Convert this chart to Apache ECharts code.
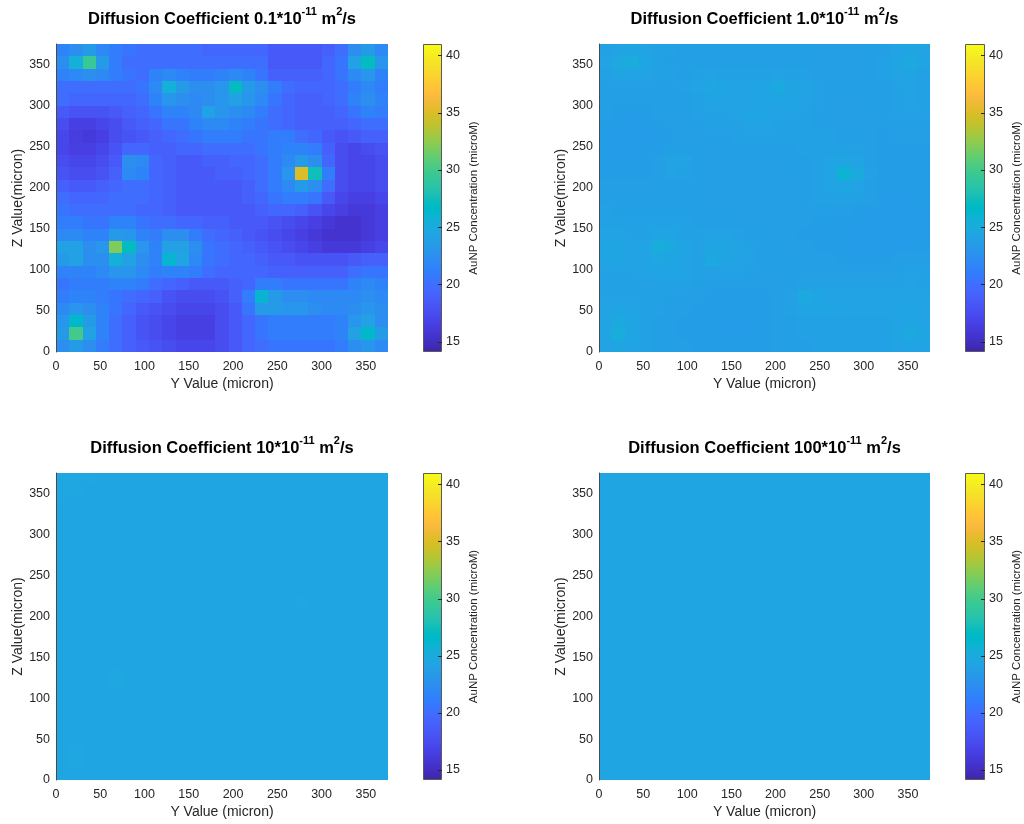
<!DOCTYPE html>
<html>
<head>
<meta charset="utf-8">
<title>AuNP concentration maps</title>
<script src="https://cdn.jsdelivr.net/npm/echarts@6/dist/echarts.min.js"></script>
<style>
  html, body { margin: 0; padding: 0; background: #ffffff; }
  #chart { width: 1024px; height: 824px; }
</style>
</head>
<body>
<div id="chart"></div>
<script>
// Grid spacing of the simulation (micron) and axis ticks
const CELL = 15;
const AXIS_MAX = 375;
const AXIS_TICKS = [0, 50, 100, 150, 200, 250, 300, 350];
const CBAR_TICKS = [15, 20, 25, 30, 35, 40];
const C_MIN = 14.1;
const C_MAX = 41;
const COEFFS = ['0.1', '1.0', '10', '100'];

// Concentration (microM) per cell; rows from top (z = 360-375) to bottom (z = 0-15),
// columns from y = 0-15 to y = 360-375.
const concD01 = [
  [21.5,22.5,23.5,22,21,20.5,20,20,20,20,20,19.5,19.5,19.5,19.5,19.5,18.5,18.5,18.5,18.5,19,20,22.5,23.5,22],
  [22.5,25.5,29.5,23.5,21,20,20,20,20,20,20,20,20,20,20,20,18.5,18.5,18.5,18.5,19.5,20.5,24,27,23],
  [21.5,22,22.5,22,21,20.5,20,21.5,22,21.5,21,21,21.5,22,21.5,20.5,19,19,19,19,19.5,20.5,22,23,21.5],
  [20,20,20,20,20,20,20.5,22,25.5,23.5,22.5,22.5,23,27,23.5,22.5,21,20,19.5,19.5,19.5,20,21,22,21],
  [20,19.5,19.5,19.5,19.5,19.5,20,21.5,23,22.5,22,22.5,23,24,23,22,20.5,19.5,19,19,19.5,20,21.5,22.5,21.5],
  [18.5,18,18,18,18.5,19,19.5,20.5,21.5,21.5,22,24,23,22.5,22,21,20,19.5,19,19,19,19.5,20.5,21.5,21],
  [17.5,16.5,16.5,17,17.5,18.5,19,19.5,20.5,20.5,21.5,22,22,21.5,21,20.5,20,19.5,19,19,19,19,19.5,20,20],
  [17,16.3,16,16.5,17.5,18,18.5,19,19.5,20,20.5,21,21,21,20.5,20.5,21,21,20,19.5,18.5,18,18.5,19,19],
  [17,16.5,16.5,17,18,19.5,19.5,19,19,19.5,19.5,20,20,20,20,20.5,21,21.5,21.5,21,19,17.5,17,17.5,18],
  [17.5,17,17,17.5,18.5,22.5,22,19.5,19,18.5,18.5,19,19,19.5,19.5,20,21,22,23.5,22.5,19.5,17.5,17,17,17.5],
  [18,17.5,17.5,18,19,22,21.5,19.5,19,18.5,18.5,18.5,19,19,19.5,20,21,23,35,27.5,21,17.5,17,17,17.5],
  [19,18.5,18.5,19,19.5,20,20,19.5,19,18.5,18.5,18.5,18.5,18.5,19,20,21,22,23.5,22.5,20,17.5,17,17,17.5],
  [20,19.5,19.5,19.5,20,20,20,19.5,19,18.5,18.5,18.5,18.5,18.5,19,19.5,20.5,21,21,20.5,18.5,17,16.5,16.5,17],
  [20.5,20,20,20,20,20,19.5,19.5,19,18.5,18.5,18.5,18.5,18.5,18.5,19,19.5,19.5,19,18,17,16.5,16,16,16.5],
  [21,21,20.5,20.5,21.5,21.5,20.5,20,20,19.5,19.5,19,19,18.5,18.5,18.5,18,17.5,17,16.5,16,15.5,15.5,16,16.5],
  [22,22,21.5,21.5,23.5,23,21.5,21,22.5,22.5,21,20,19.5,19,18.5,18,17.5,17,16.5,16,15.5,15.5,15.5,16,16.5],
  [24,24,22.5,23,32,27,23,21.5,24,24,22.5,20.5,20,19.5,19,18.5,18,17.5,17,16.5,16,16,16,16.5,17],
  [23.5,24,22.5,22.5,25.5,24,22.5,21.5,26,24.5,22,20.5,20,19.5,19.5,19,18.5,18.5,18,18,18,18,18.5,19,19],
  [21.5,21.5,21.5,22,23,23,22,21,21.5,21.5,21,20,19.5,19.5,19.5,19.5,19,19,19,19,19,19,20,20.5,20.5],
  [20.5,21,21,21,21.5,21.5,21,20,19.5,19,18.5,18.5,18.5,19,19.5,21,21,20.5,20.5,20.5,20.5,20.5,21.5,22,21.5],
  [21,21.5,21.5,21,20.5,20,19.5,19,18,17.5,17.5,17.5,18,19,21,26,23.5,22.5,22.5,22,22,22,22,22.5,22],
  [22,23,22.5,21.5,20.5,19.5,18.5,18,17.5,17,17,17,17.5,18.5,20.5,23.5,23.5,23,23,22.5,22,22,22.5,23,22.5],
  [23,26.5,23.5,21.5,20,19,18,17.5,17,16.5,16.5,16.5,17.5,18.5,19.5,20.5,21,21,21,21,21,21.5,23,24,22.5],
  [23.5,30,24,21.5,20,19,18,17.5,17,16.5,16.5,16.5,17.5,18.5,19.5,20.5,21,21,21,21,21,21.5,24,26.5,23.5],
  [22.5,23.5,22.5,21,20,19,18.5,18,17.5,17,17,17,17.5,18.5,19.5,20,20.5,20.5,20.5,20.5,20.5,21,22.5,23,22]
];

const concD1 = [
  [24.1,24.2,24.4,24.2,24.1,24.0,23.9,23.9,23.9,23.9,23.9,23.9,23.9,23.9,23.9,23.9,23.8,23.8,23.8,23.8,23.8,23.9,24.2,24.4,24.2],
  [24.2,24.7,25.1,24.4,24.1,23.9,23.9,23.9,23.9,23.9,23.9,23.9,23.9,23.9,23.9,23.9,23.8,23.8,23.8,23.8,23.9,24.0,24.4,24.7,24.3],
  [24.1,24.2,24.2,24.2,24.1,24.0,23.9,24.1,24.2,24.1,24.1,24.1,24.1,24.2,24.1,24.0,23.8,23.8,23.8,23.8,23.9,24.0,24.2,24.3,24.1],
  [23.9,23.9,23.9,23.9,23.9,23.9,24.0,24.2,24.6,24.4,24.2,24.2,24.3,24.8,24.4,24.2,24.1,23.9,23.9,23.9,23.9,23.9,24.1,24.2,24.1],
  [23.9,23.9,23.9,23.9,23.9,23.9,23.9,24.1,24.3,24.2,24.2,24.2,24.3,24.4,24.3,24.2,24.0,23.9,23.8,23.8,23.9,23.9,24.1,24.2,24.1],
  [23.8,23.7,23.7,23.7,23.8,23.8,23.9,24.0,24.1,24.1,24.2,24.4,24.3,24.2,24.2,24.1,23.9,23.9,23.8,23.8,23.8,23.9,24.0,24.1,24.1],
  [23.7,23.6,23.6,23.7,23.7,23.8,23.8,23.9,24.0,24.0,24.1,24.2,24.2,24.1,24.1,24.0,23.9,23.9,23.8,23.8,23.8,23.8,23.9,23.9,23.9],
  [23.7,23.6,23.6,23.6,23.7,23.7,23.8,23.8,23.9,23.9,24.0,24.1,24.1,24.1,24.0,24.0,24.1,24.1,23.9,23.9,23.8,23.7,23.8,23.8,23.8],
  [23.7,23.6,23.6,23.7,23.7,23.9,23.9,23.8,23.8,23.9,23.9,23.9,23.9,23.9,23.9,24.0,24.1,24.1,24.1,24.1,23.8,23.7,23.7,23.7,23.7],
  [23.7,23.7,23.7,23.7,23.8,24.2,24.2,23.9,23.8,23.8,23.8,23.8,23.8,23.9,23.9,23.9,24.1,24.2,24.4,24.2,23.9,23.7,23.7,23.7,23.7],
  [23.7,23.7,23.7,23.7,23.8,24.2,24.1,23.9,23.8,23.8,23.8,23.8,23.8,23.8,23.9,23.9,24.1,24.3,25.8,24.9,24.1,23.7,23.7,23.7,23.7],
  [23.8,23.8,23.8,23.8,23.9,23.9,23.9,23.9,23.8,23.8,23.8,23.8,23.8,23.8,23.8,23.9,24.1,24.2,24.4,24.2,23.9,23.7,23.7,23.7,23.7],
  [23.9,23.9,23.9,23.9,23.9,23.9,23.9,23.9,23.8,23.8,23.8,23.8,23.8,23.8,23.8,23.9,24.0,24.1,24.1,24.0,23.8,23.7,23.6,23.6,23.7],
  [24.0,23.9,23.9,23.9,23.9,23.9,23.9,23.9,23.8,23.8,23.8,23.8,23.8,23.8,23.8,23.8,23.9,23.9,23.8,23.7,23.7,23.6,23.6,23.6,23.6],
  [24.1,24.1,24.0,24.0,24.1,24.1,24.0,23.9,23.9,23.9,23.9,23.8,23.8,23.8,23.8,23.8,23.7,23.7,23.7,23.6,23.6,23.6,23.6,23.6,23.6],
  [24.2,24.2,24.1,24.1,24.4,24.3,24.1,24.1,24.2,24.2,24.1,23.9,23.9,23.8,23.8,23.7,23.7,23.7,23.6,23.6,23.6,23.6,23.6,23.6,23.6],
  [24.4,24.4,24.2,24.3,25.3,24.8,24.3,24.1,24.4,24.4,24.2,24.0,23.9,23.9,23.8,23.8,23.7,23.7,23.7,23.6,23.6,23.6,23.6,23.6,23.7],
  [24.4,24.4,24.2,24.2,24.6,24.4,24.2,24.1,24.7,24.5,24.2,24.0,23.9,23.9,23.9,23.8,23.8,23.8,23.7,23.7,23.7,23.7,23.8,23.8,23.8],
  [24.1,24.1,24.1,24.2,24.3,24.3,24.2,24.1,24.1,24.1,24.1,23.9,23.9,23.9,23.9,23.9,23.8,23.8,23.8,23.8,23.8,23.8,23.9,24.0,24.0],
  [24.0,24.1,24.1,24.1,24.1,24.1,24.1,23.9,23.9,23.8,23.8,23.8,23.8,23.8,23.9,24.1,24.1,24.0,24.0,24.0,24.0,24.0,24.1,24.2,24.1],
  [24.1,24.1,24.1,24.1,24.0,23.9,23.9,23.8,23.7,23.7,23.7,23.7,23.7,23.8,24.1,24.7,24.4,24.2,24.2,24.2,24.2,24.2,24.2,24.2,24.2],
  [24.2,24.3,24.2,24.1,24.0,23.9,23.8,23.7,23.7,23.7,23.7,23.7,23.7,23.8,24.0,24.4,24.4,24.3,24.3,24.2,24.2,24.2,24.2,24.3,24.2],
  [24.3,24.7,24.4,24.1,23.9,23.8,23.7,23.7,23.7,23.6,23.6,23.6,23.7,23.8,23.9,24.0,24.1,24.1,24.1,24.1,24.1,24.1,24.3,24.4,24.2],
  [24.4,25.2,24.4,24.1,23.9,23.8,23.7,23.7,23.7,23.6,23.6,23.6,23.7,23.8,23.9,24.0,24.1,24.1,24.1,24.1,24.1,24.1,24.4,24.7,24.4],
  [24.2,24.4,24.2,24.1,23.9,23.8,23.8,23.7,23.7,23.7,23.7,23.7,23.7,23.8,23.9,23.9,24.0,24.0,24.0,24.0,24.0,24.1,24.2,24.3,24.2]
];

const concD10 = [
  [24.6,24.6,24.6,24.5,24.45,24.4,24.4,24.4,24.4,24.4,24.4,24.4,24.4,24.4,24.4,24.4,24.4,24.4,24.4,24.4,24.4,24.4,24.4,24.45,24.4],
  [24.6,24.6,24.5,24.45,24.4,24.4,24.4,24.4,24.4,24.4,24.4,24.4,24.4,24.4,24.4,24.4,24.4,24.4,24.4,24.4,24.4,24.4,24.45,24.45,24.4],
  [24.45,24.45,24.4,24.4,24.4,24.4,24.4,24.4,24.4,24.4,24.4,24.4,24.4,24.4,24.4,24.4,24.4,24.4,24.4,24.4,24.4,24.4,24.4,24.4,24.4],
  [24.4,24.4,24.4,24.4,24.4,24.4,24.4,24.4,24.45,24.4,24.4,24.4,24.4,24.45,24.4,24.4,24.4,24.4,24.4,24.4,24.4,24.4,24.4,24.4,24.4],
  [24.4,24.4,24.4,24.4,24.4,24.4,24.4,24.4,24.4,24.4,24.4,24.4,24.4,24.4,24.4,24.4,24.4,24.4,24.4,24.4,24.4,24.4,24.4,24.4,24.4],
  [24.4,24.4,24.4,24.4,24.4,24.4,24.4,24.4,24.4,24.4,24.4,24.4,24.4,24.4,24.4,24.4,24.4,24.4,24.4,24.4,24.4,24.4,24.4,24.4,24.4],
  [24.35,24.35,24.35,24.35,24.4,24.4,24.4,24.4,24.4,24.4,24.4,24.4,24.4,24.4,24.4,24.4,24.4,24.4,24.4,24.4,24.4,24.4,24.4,24.4,24.4],
  [24.35,24.35,24.35,24.35,24.4,24.4,24.4,24.4,24.4,24.4,24.4,24.4,24.4,24.4,24.4,24.4,24.4,24.4,24.4,24.4,24.4,24.4,24.4,24.4,24.4],
  [24.35,24.35,24.35,24.4,24.4,24.4,24.4,24.4,24.4,24.4,24.4,24.4,24.4,24.4,24.4,24.4,24.4,24.4,24.4,24.4,24.4,24.35,24.35,24.35,24.35],
  [24.4,24.4,24.4,24.4,24.4,24.45,24.45,24.4,24.4,24.4,24.4,24.4,24.4,24.4,24.4,24.4,24.4,24.4,24.45,24.4,24.4,24.35,24.35,24.35,24.35],
  [24.4,24.4,24.4,24.4,24.4,24.45,24.45,24.4,24.4,24.4,24.4,24.4,24.4,24.4,24.4,24.4,24.4,24.45,24.6,24.5,24.4,24.35,24.35,24.35,24.35],
  [24.4,24.4,24.4,24.4,24.4,24.4,24.4,24.4,24.4,24.4,24.4,24.4,24.4,24.4,24.4,24.4,24.4,24.4,24.45,24.4,24.4,24.35,24.35,24.35,24.35],
  [24.4,24.4,24.4,24.4,24.4,24.4,24.4,24.4,24.4,24.4,24.4,24.4,24.4,24.4,24.4,24.4,24.4,24.4,24.4,24.4,24.4,24.35,24.35,24.35,24.35],
  [24.4,24.4,24.4,24.4,24.4,24.4,24.4,24.4,24.4,24.4,24.4,24.4,24.4,24.4,24.4,24.4,24.4,24.4,24.4,24.4,24.35,24.35,24.35,24.35,24.35],
  [24.4,24.4,24.4,24.4,24.4,24.4,24.4,24.4,24.4,24.4,24.4,24.4,24.4,24.4,24.4,24.4,24.4,24.4,24.35,24.35,24.35,24.35,24.35,24.35,24.35],
  [24.45,24.45,24.4,24.4,24.45,24.45,24.4,24.4,24.4,24.4,24.4,24.4,24.4,24.4,24.4,24.4,24.4,24.4,24.35,24.35,24.35,24.35,24.35,24.35,24.35],
  [24.5,24.45,24.4,24.5,24.55,24.5,24.4,24.4,24.45,24.4,24.4,24.4,24.4,24.4,24.4,24.4,24.4,24.4,24.35,24.35,24.35,24.35,24.35,24.35,24.35],
  [24.45,24.45,24.4,24.45,24.55,24.5,24.4,24.4,24.5,24.45,24.4,24.4,24.4,24.4,24.4,24.4,24.4,24.4,24.4,24.4,24.4,24.4,24.4,24.4,24.4],
  [24.4,24.4,24.4,24.4,24.45,24.45,24.4,24.4,24.4,24.4,24.4,24.4,24.4,24.4,24.4,24.4,24.4,24.4,24.4,24.4,24.4,24.4,24.4,24.4,24.4],
  [24.4,24.4,24.4,24.4,24.4,24.4,24.4,24.4,24.4,24.4,24.4,24.4,24.4,24.4,24.4,24.4,24.4,24.4,24.4,24.4,24.4,24.4,24.4,24.4,24.4],
  [24.4,24.4,24.4,24.4,24.4,24.4,24.4,24.4,24.4,24.4,24.4,24.4,24.4,24.4,24.4,24.5,24.45,24.4,24.4,24.4,24.4,24.4,24.4,24.4,24.4],
  [24.45,24.45,24.45,24.4,24.4,24.4,24.4,24.4,24.4,24.4,24.4,24.4,24.4,24.4,24.4,24.45,24.45,24.4,24.4,24.4,24.4,24.4,24.4,24.4,24.4],
  [24.5,24.55,24.5,24.45,24.4,24.4,24.4,24.4,24.4,24.4,24.4,24.4,24.4,24.4,24.4,24.4,24.4,24.4,24.4,24.4,24.4,24.4,24.4,24.45,24.4],
  [24.5,24.6,24.5,24.45,24.4,24.4,24.4,24.4,24.4,24.4,24.4,24.4,24.4,24.4,24.4,24.4,24.4,24.4,24.4,24.4,24.4,24.4,24.45,24.45,24.4],
  [24.45,24.5,24.45,24.4,24.4,24.4,24.4,24.4,24.4,24.4,24.4,24.4,24.4,24.4,24.4,24.4,24.4,24.4,24.4,24.4,24.4,24.4,24.4,24.4,24.4]
];

const concD100 = [
  [24.5,24.5,24.5,24.5,24.5,24.5,24.5,24.5,24.5,24.5,24.5,24.5,24.5,24.5,24.5,24.5,24.5,24.5,24.5,24.5,24.5,24.5,24.5,24.5,24.5],
  [24.5,24.5,24.5,24.5,24.5,24.5,24.5,24.5,24.5,24.5,24.5,24.5,24.5,24.5,24.5,24.5,24.5,24.5,24.5,24.5,24.5,24.5,24.5,24.5,24.5],
  [24.5,24.5,24.5,24.5,24.5,24.5,24.5,24.5,24.5,24.5,24.5,24.5,24.5,24.5,24.5,24.5,24.5,24.5,24.5,24.5,24.5,24.5,24.5,24.5,24.5],
  [24.5,24.5,24.5,24.5,24.5,24.5,24.5,24.5,24.5,24.5,24.5,24.5,24.5,24.5,24.5,24.5,24.5,24.5,24.5,24.5,24.5,24.5,24.5,24.5,24.5],
  [24.5,24.5,24.5,24.5,24.5,24.5,24.5,24.5,24.5,24.5,24.5,24.5,24.5,24.5,24.5,24.5,24.5,24.5,24.5,24.5,24.5,24.5,24.5,24.5,24.5],
  [24.5,24.5,24.5,24.5,24.5,24.5,24.5,24.5,24.5,24.5,24.5,24.5,24.5,24.5,24.5,24.5,24.5,24.5,24.5,24.5,24.5,24.5,24.5,24.5,24.5],
  [24.5,24.5,24.5,24.5,24.5,24.5,24.5,24.5,24.5,24.5,24.5,24.5,24.5,24.5,24.5,24.5,24.5,24.5,24.5,24.5,24.5,24.5,24.5,24.5,24.5],
  [24.5,24.5,24.5,24.5,24.5,24.5,24.5,24.5,24.5,24.5,24.5,24.5,24.5,24.5,24.5,24.5,24.5,24.5,24.5,24.5,24.5,24.5,24.5,24.5,24.5],
  [24.5,24.5,24.5,24.5,24.5,24.5,24.5,24.5,24.5,24.5,24.5,24.5,24.5,24.5,24.5,24.5,24.5,24.5,24.5,24.5,24.5,24.5,24.5,24.5,24.5],
  [24.5,24.5,24.5,24.5,24.5,24.5,24.5,24.5,24.5,24.5,24.5,24.5,24.5,24.5,24.5,24.5,24.5,24.5,24.5,24.5,24.5,24.5,24.5,24.5,24.5],
  [24.5,24.5,24.5,24.5,24.5,24.5,24.5,24.5,24.5,24.5,24.5,24.5,24.5,24.5,24.5,24.5,24.5,24.5,24.5,24.5,24.5,24.5,24.5,24.5,24.5],
  [24.5,24.5,24.5,24.5,24.5,24.5,24.5,24.5,24.5,24.5,24.5,24.5,24.5,24.5,24.5,24.5,24.5,24.5,24.5,24.5,24.5,24.5,24.5,24.5,24.5],
  [24.5,24.5,24.5,24.5,24.5,24.5,24.5,24.5,24.5,24.5,24.5,24.5,24.5,24.5,24.5,24.5,24.5,24.5,24.5,24.5,24.5,24.5,24.5,24.5,24.5],
  [24.5,24.5,24.5,24.5,24.5,24.5,24.5,24.5,24.5,24.5,24.5,24.5,24.5,24.5,24.5,24.5,24.5,24.5,24.5,24.5,24.5,24.5,24.5,24.5,24.5],
  [24.5,24.5,24.5,24.5,24.5,24.5,24.5,24.5,24.5,24.5,24.5,24.5,24.5,24.5,24.5,24.5,24.5,24.5,24.5,24.5,24.5,24.5,24.5,24.5,24.5],
  [24.5,24.5,24.5,24.5,24.5,24.5,24.5,24.5,24.5,24.5,24.5,24.5,24.5,24.5,24.5,24.5,24.5,24.5,24.5,24.5,24.5,24.5,24.5,24.5,24.5],
  [24.5,24.5,24.5,24.5,24.5,24.5,24.5,24.5,24.5,24.5,24.5,24.5,24.5,24.5,24.5,24.5,24.5,24.5,24.5,24.5,24.5,24.5,24.5,24.5,24.5],
  [24.5,24.5,24.5,24.5,24.5,24.5,24.5,24.5,24.5,24.5,24.5,24.5,24.5,24.5,24.5,24.5,24.5,24.5,24.5,24.5,24.5,24.5,24.5,24.5,24.5],
  [24.5,24.5,24.5,24.5,24.5,24.5,24.5,24.5,24.5,24.5,24.5,24.5,24.5,24.5,24.5,24.5,24.5,24.5,24.5,24.5,24.5,24.5,24.5,24.5,24.5],
  [24.5,24.5,24.5,24.5,24.5,24.5,24.5,24.5,24.5,24.5,24.5,24.5,24.5,24.5,24.5,24.5,24.5,24.5,24.5,24.5,24.5,24.5,24.5,24.5,24.5],
  [24.5,24.5,24.5,24.5,24.5,24.5,24.5,24.5,24.5,24.5,24.5,24.5,24.5,24.5,24.5,24.5,24.5,24.5,24.5,24.5,24.5,24.5,24.5,24.5,24.5],
  [24.5,24.5,24.5,24.5,24.5,24.5,24.5,24.5,24.5,24.5,24.5,24.5,24.5,24.5,24.5,24.5,24.5,24.5,24.5,24.5,24.5,24.5,24.5,24.5,24.5],
  [24.5,24.5,24.5,24.5,24.5,24.5,24.5,24.5,24.5,24.5,24.5,24.5,24.5,24.5,24.5,24.5,24.5,24.5,24.5,24.5,24.5,24.5,24.5,24.5,24.5],
  [24.5,24.5,24.5,24.5,24.5,24.5,24.5,24.5,24.5,24.5,24.5,24.5,24.5,24.5,24.5,24.5,24.5,24.5,24.5,24.5,24.5,24.5,24.5,24.5,24.5],
  [24.5,24.5,24.5,24.5,24.5,24.5,24.5,24.5,24.5,24.5,24.5,24.5,24.5,24.5,24.5,24.5,24.5,24.5,24.5,24.5,24.5,24.5,24.5,24.5,24.5]
];

// parula colormap (64 steps)
const PARULA = [
  '#3e26a8','#402ab4','#422ec0','#4332cb','#4537d5','#463cde','#4741e5','#4747eb',
  '#484df0','#4852f4','#4758f8','#465efb','#4563fd','#4269fe','#3e6fff','#3875fe',
  '#327cfc','#2f81fa','#2e87f7','#2d8cf3','#2b91ef','#2797eb','#259be8','#23a0e5',
  '#20a5e3','#1ca9df','#18addb','#12b1d6','#08b5d0','#01b8ca','#02bac3','#0bbdbd',
  '#19bfb6','#24c1ae','#2cc4a7','#31c69f','#37c897','#3fca8e','#4acb84','#57cc7a',
  '#64cd6f','#72cd64','#81cc59','#8fcb4e','#9dc943','#abc739','#b9c431','#c5c22a',
  '#d1bf27','#dcbd29','#e6bb2d','#f0ba36','#f8ba3d','#febe3c','#fec338','#fec934',
  '#fccf30','#fad62d','#f7dc2a','#f5e327','#f5e924','#f6ef20','#f7f51b','#f9fb15'
];

const FONT = '"Liberation Sans", Arial, Helvetica, sans-serif';
const TEXT_COLOR = '#262626';

// Panel placement: [plot left, plot top, plot width, plot height, colorbar left, colorbar width]
const LAYOUT = [
  [56, 44, 332, 308, 423, 19],
  [599, 44, 331, 308, 965, 20],
  [56, 473, 332, 307, 423, 19],
  [599, 473, 331, 307, 965, 20]
];
const PANEL_DATA = [concD01, concD1, concD10, concD100];
const NP = LAYOUT.length;

function toCells(rows) {
  const out = [];
  const n = rows.length;
  rows.forEach((row, i) => {
    const r = n - 1 - i;
    row.forEach((v, c) => out.push([c * CELL + CELL / 2, r * CELL + CELL / 2, v]));
  });
  return out;
}

function renderCell(params, api) {
  const yc = api.value(0);
  const zc = api.value(1);
  const a = api.coord([yc - CELL / 2, zc + CELL / 2]);
  const b = api.coord([yc + CELL / 2, zc - CELL / 2]);
  const x0 = Math.round(a[0]), y0 = Math.round(a[1]);
  const x1 = Math.round(b[0]), y1 = Math.round(b[1]);
  return {
    type: 'rect',
    shape: { x: x0, y: y0, width: x1 - x0, height: y1 - y0 },
    style: { fill: api.visual('color') }
  };
}

const barGradientStops = PARULA.map((c, i) => ({ offset: i / (PARULA.length - 1), color: c }));

// colour bar: gradient box with short inward ticks on its right edge
function renderBar(params, api) {
  const lo = api.coord([0, api.value(1)]);
  const hi = api.coord([1, api.value(2)]);
  const children = [{
    type: 'rect',
    shape: { x: lo[0] + 0.5, y: hi[1] + 0.5, width: hi[0] - lo[0] - 1, height: lo[1] - hi[1] - 1 },
    style: {
      fill: new echarts.graphic.LinearGradient(0, 1, 0, 0, barGradientStops),
      stroke: '#5a5a5a',
      lineWidth: 1
    }
  }];
  CBAR_TICKS.forEach((t) => {
    const y = Math.round(api.coord([1, t])[1]) + 0.5;
    children.push({
      type: 'line',
      shape: { x1: hi[0] - 4, y1: y, x2: hi[0], y2: y },
      style: { stroke: '#262626', lineWidth: 1 }
    });
  });
  return { type: 'group', children };
}

const grids = [], xAxes = [], yAxes = [], series = [], titles = [];

// heat map plots: grid / axis / series index 0..3
LAYOUT.forEach((L, i) => {
  const [left, top, width, height] = L;
  grids.push({ left, top, width, height, containLabel: false });
  xAxes.push({
    type: 'value', gridIndex: i, min: 0, max: AXIS_MAX, z: 10,
    name: 'Y Value (micron)', nameLocation: 'middle', nameGap: 25,
    nameTextStyle: { fontFamily: FONT, fontSize: 14, color: TEXT_COLOR },
    axisLine: { show: false },
    axisTick: { show: false },
    splitLine: { show: false },
    axisLabel: { customValues: AXIS_TICKS, fontFamily: FONT, fontSize: 12.5, color: TEXT_COLOR, margin: 8 }
  });
  yAxes.push({
    type: 'value', gridIndex: i, min: 0, max: AXIS_MAX, z: 10,
    name: 'Z Value(micron)', nameLocation: 'middle', nameGap: 31,
    nameTextStyle: { fontFamily: FONT, fontSize: 14, color: TEXT_COLOR },
    axisLine: { show: true, lineStyle: { color: '#4a4a4a', width: 1 } },
    axisTick: { show: false },
    splitLine: { show: false },
    axisLabel: { customValues: AXIS_TICKS, fontFamily: FONT, fontSize: 12.5, color: TEXT_COLOR, margin: 6 }
  });
  series.push({
    type: 'custom', xAxisIndex: i, yAxisIndex: i,
    data: toCells(PANEL_DATA[i]),
    encode: { x: 0, y: 1 },
    renderItem: renderCell,
    clip: true,
    silent: true
  });
  titles.push({
    text: '{m|Diffusion Coefficient ' + COEFFS[i] + '*10}{s|-11}{m| m}{s|2}{m|/s}',
    left: left + width / 2,
    top: top - 38,
    textAlign: 'center',
    padding: 0,
    textStyle: {
      rich: {
        m: { fontFamily: FONT, fontSize: 16.5, fontWeight: 'bold', color: '#000', lineHeight: 22, verticalAlign: 'bottom' },
        s: { fontFamily: FONT, fontSize: 11, fontWeight: 'bold', color: '#000', lineHeight: 15, verticalAlign: 'top' }
      }
    }
  });
});

// colour bars: grid / axis / series index 4..7
LAYOUT.forEach((L, i) => {
  const [, top, , height, cbLeft, cbWidth] = L;
  const g = NP + i;
  grids.push({ left: cbLeft, top, width: cbWidth, height, containLabel: false });
  xAxes.push({ type: 'value', gridIndex: g, min: 0, max: 1, show: false });
  yAxes.push({
    type: 'value', gridIndex: g, min: C_MIN, max: C_MAX, position: 'right', z: 10,
    name: 'AuNP Concentration (microM)', nameLocation: 'middle', nameGap: 26, nameRotate: 90,
    nameTextStyle: { fontFamily: FONT, fontSize: 11.5, color: TEXT_COLOR },
    axisLine: { show: false },
    axisTick: { show: false },
    splitLine: { show: false },
    axisLabel: { customValues: CBAR_TICKS, fontFamily: FONT, fontSize: 12.5, color: TEXT_COLOR, margin: 4 }
  });
  series.push({
    type: 'custom', xAxisIndex: g, yAxisIndex: g,
    data: [[0, C_MIN, C_MAX]],
    renderItem: renderBar,
    silent: true
  });
});

const chart = echarts.init(document.getElementById('chart'), null, { renderer: 'canvas' });
chart.setOption({
  backgroundColor: '#ffffff',
  animation: false,
  title: titles,
  grid: grids,
  xAxis: xAxes,
  yAxis: yAxes,
  visualMap: [{
    type: 'continuous', show: false, min: C_MIN, max: C_MAX, dimension: 2,
    seriesIndex: [0, 1, 2, 3],
    inRange: { color: PARULA }
  }],
  series
});
</script>
</body>
</html>
